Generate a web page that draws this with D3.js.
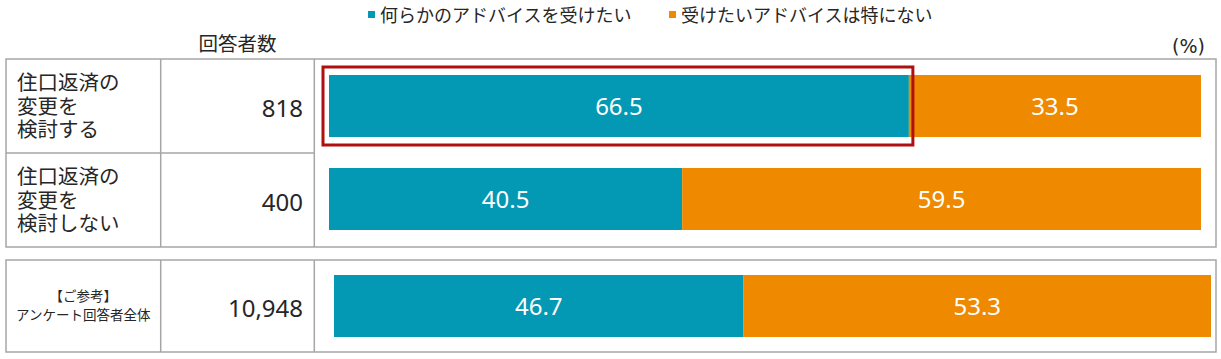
<!DOCTYPE html>
<html><head><meta charset="utf-8">
<script src="https://cdn.jsdelivr.net/npm/d3@7"></script>
<style>
html,body{margin:0;padding:0;background:#fff;}
body{position:relative;width:1221px;height:359px;overflow:hidden;}
svg{display:block;position:absolute;left:0;top:0;}
text{font-family:"Noto Sans CJK JP","Noto Sans",sans-serif;fill:#262626;}
.num{font-family:"Noto Sans","Noto Sans CJK JP",sans-serif;}
.lbl{position:absolute;font-family:"Liberation Sans","Noto Sans CJK JP",sans-serif;color:#262626;white-space:nowrap;margin:0;padding:0;}
</style></head>
<body>
<script>
// ---- data ----
const categories = [
  ["住口返済の","変更を","検討する"],
  ["住口返済の","変更を","検討しない"],
  ["【ご参考】","アンケート回答者全体"]
];
const respondents = ["818","400","10,948"];
const seriesNames = ["何らかのアドバイスを受けたい","受けたいアドバイスは特にない"];
const wantAdvice = [66.5, 40.5, 46.7];
const noAdvice   = [33.5, 59.5, 53.3];
const headerLabel = "回答者数";
const unitLabel = "(%)";

// ---- layout ----
const W = 1221, H = 359;
const colors = ["#0399b4","#ee8900"];
const grid = "#a6a6a6";
const svg = d3.select("body").append("svg").attr("width",W).attr("height",H);

const xL = 6, c1 = 160.7, c2 = 314.3, xR = 1216;
const rowTop = [59,153,260], rowH = [94,94,92];
const barTop = [75,168,275], barH = 62;
const xMain = d3.scaleLinear().domain([0,100]).range([329,1201]);
const xRef  = d3.scaleLinear().domain([0,100]).range([334,1211]);
const xs = [xMain, xMain, xRef];

// legend
const lg = svg.append("g");
const legX = [368, 669];
seriesNames.forEach((s,i)=>{
  lg.append("rect").attr("x",legX[i]).attr("y",11).attr("width",7).attr("height",7).attr("fill",colors[i]);
  lg.append("text").attr("x",legX[i]+12).attr("y",22).attr("font-size",18).text(s);
});

// header
svg.append("text").attr("x",(c1+c2)/2).attr("y",51).attr("text-anchor","middle").attr("font-size",19.5).text(headerLabel);
svg.append("text").attr("x",1205).attr("y",53).attr("text-anchor","end").attr("font-size",19)
  .style("font-family","'DejaVu Sans',sans-serif").text(unitLabel);

// table borders
const g = svg.append("g").attr("fill","none").attr("stroke",grid).attr("stroke-width",1.5);
g.append("rect").attr("x",xL).attr("y",rowTop[0]).attr("width",xR-xL).attr("height",rowH[0]+rowH[1]);
g.append("rect").attr("x",xL).attr("y",rowTop[2]).attr("width",xR-xL).attr("height",rowH[2]);
[c1,c2].forEach(cx=>{
  g.append("line").attr("x1",cx).attr("x2",cx).attr("y1",rowTop[0]).attr("y2",rowTop[1]+rowH[1]);
  g.append("line").attr("x1",cx).attr("x2",cx).attr("y1",rowTop[2]).attr("y2",rowTop[2]+rowH[2]);
});
g.append("line").attr("x1",xL).attr("x2",c2).attr("y1",rowTop[1]).attr("y2",rowTop[1]);

// row labels (HTML blocks, tight line spacing) & counts
const body = d3.select("body");
categories.forEach((lines,i)=>{
  const cy = rowTop[i]+rowH[i]/2;
  if(i<2){
    const d = body.append("div").attr("class","lbl")
      .style("left","17px").style("top",(cy-34.6)+"px")
      .style("font-size","20.5px").style("line-height","23.5px");
    d.html(lines.join("<br>"));
  } else {
    const d = body.append("div").attr("class","lbl")
      .style("left",xL+"px").style("width",(c1-xL)+"px").style("text-align","center")
      .style("top",(cy-19.2)+"px")
      .style("font-size","13.5px").style("line-height","19px");
    d.html(lines.join("<br>"));
  }
  svg.append("text").attr("class","num").attr("x",303).attr("y",cy+10.5).attr("text-anchor","end").attr("font-size",24).text(respondents[i]);
});

// bars
const series = [wantAdvice, noAdvice];
categories.forEach((c,i)=>{
  const x = xs[i];
  let acc = 0;
  series.forEach((vals,k)=>{
    const v = vals[i];
    svg.append("rect").attr("x",x(acc)).attr("y",barTop[i]).attr("width",x(acc+v)-x(acc)).attr("height",barH).attr("fill",colors[k]);
    svg.append("text").attr("class","num").attr("x",(x(acc)+x(acc+v))/2).attr("y",barTop[i]+barH/2+8.5)
      .attr("text-anchor","middle").attr("font-size",24).style("fill","#fff").text(v.toFixed(1));
    acc += v;
  });
});

// highlight box around the first teal bar
svg.append("rect").attr("x",xMain(0)-6).attr("y",barTop[0]-8).attr("width",xMain(wantAdvice[0])-xMain(0)+10).attr("height",barH+16)
  .attr("fill","none").attr("stroke","#b00f0f").attr("stroke-width",3);
</script>
</body></html>
